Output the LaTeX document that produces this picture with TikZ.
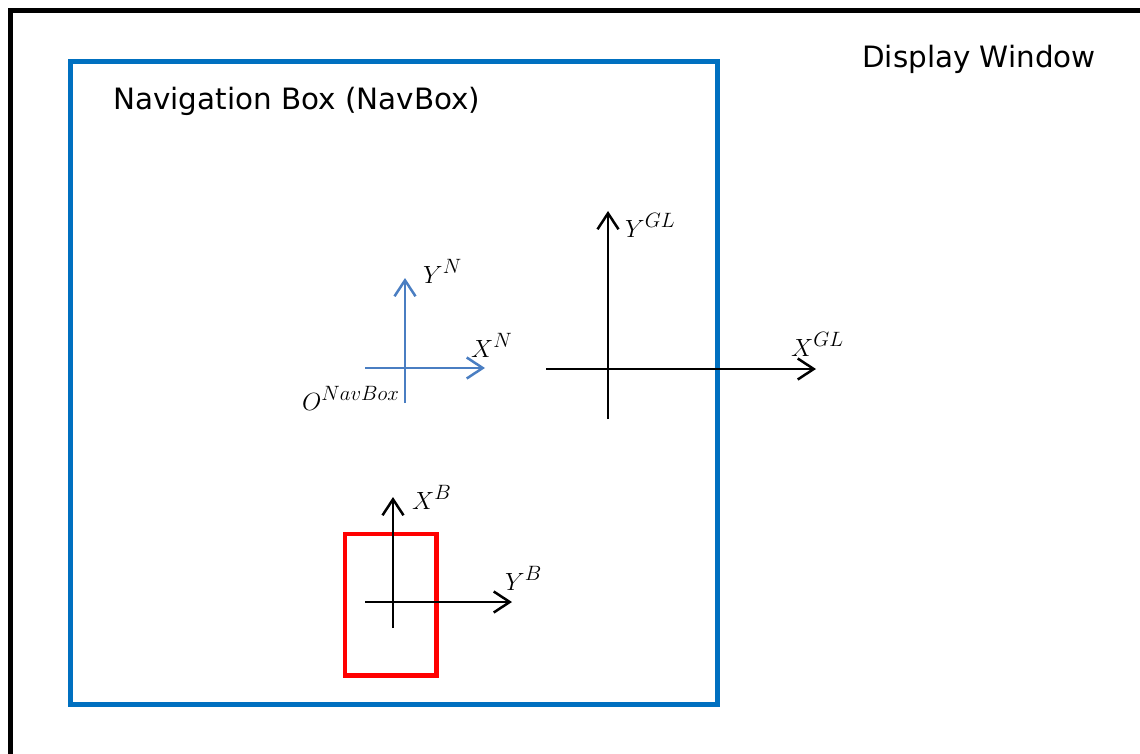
\documentclass[tikz,border=0pt]{standalone}
\usepackage{fontspec}
\setmainfont{DejaVu Sans}
\usetikzlibrary{arrows.meta}
\definecolor{navblue}{HTML}{0070C0}
\definecolor{axblue}{HTML}{4A7EC2}
\definecolor{boxred}{HTML}{FF0000}
\tikzset{
  frame/.style={line width=5pt},
  navbox/.style={draw=navblue,line width=5pt},
  bodybox/.style={draw=boxred,line width=4.5pt},
  axis/.style={line width=2.5pt,-{Straight Barb[length=16pt,width=21pt,line width=2.5pt]}},
  naxis/.style={axis,draw=axblue,line width=2.2pt},
  lbl/.style={inner sep=0pt,anchor=base west,font=\fontsize{29.4}{32}\selectfont},
  mlbl/.style={inner sep=0pt,anchor=base west,font=\fontsize{28.5}{32}\selectfont}
}
\begin{document}
\begin{tikzpicture}[x=1pt,y=-1pt]
\useasboundingbox (0,0) rectangle (1140,754);
\begin{scope}
\clip (0,0) rectangle (1140,754);
\draw[frame] (10.5,10.5) rectangle (1160,780);
\end{scope}
\draw[navbox] (70,62) rectangle (717,704);
\node[lbl] (dw) at (862,68) {Display Window};
\node[lbl] (nb) at (113,110) {Navigation Box (NavBox)};
% NavBox axes
\coordinate (no) at (405,368);
\coordinate (nyb) at (405,403);
\coordinate (nyt) at (405,278);
\coordinate (nxl) at (365,368);
\coordinate (nxr) at (485,368);
\draw[naxis] (nyb) -- (nyt);
\draw[naxis] (nxl) -- (nxr);
\node[mlbl] (yn) at (423,283) {$Y^N$};
\node[mlbl] (xn) at (471,357) {$X^N$};
\node[mlbl] (on) at (302,410) {$O^{NavBox}$};
% GL axes
\coordinate (gyb) at (608,419);
\coordinate (gyt) at (608,211);
\coordinate (gxl) at (546,369);
\coordinate (gxr) at (816,369);
\draw[axis] (gyb) -- (gyt);
\draw[axis] (gxl) -- (gxr);
\node[mlbl] (ygl) at (625,237) {$Y^{GL}$};
\node[mlbl] (xgl) at (791,356) {$X^{GL}$};
% Body
\draw[bodybox] (345,534) rectangle (436.5,675.5);
\coordinate (byb) at (393,628);
\coordinate (byt) at (393,497);
\coordinate (bxl) at (365,602);
\coordinate (bxr) at (512,602);
\draw[axis] (byb) -- (byt);
\draw[axis] (bxl) -- (bxr);
\node[mlbl] (xb) at (412,509) {$X^B$};
\node[mlbl] (yb) at (505,590) {$Y^B$};
\end{tikzpicture}
\end{document}
